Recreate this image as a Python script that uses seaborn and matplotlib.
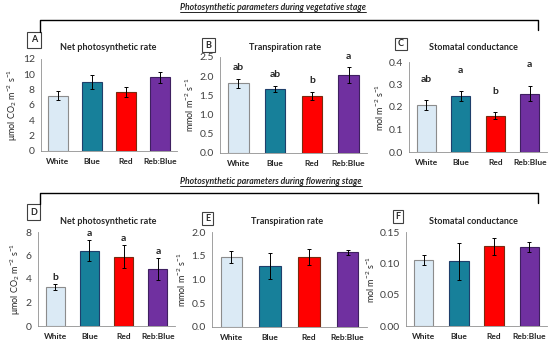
import matplotlib
matplotlib.use("Agg")
import matplotlib.pyplot as plt
import seaborn as sns
import pandas as pd
from matplotlib.lines import Line2D
from matplotlib.patches import Rectangle

sns.set_style("white")
plt.rcParams['font.family'] = ['Lato', 'DejaVu Sans']
plt.rcParams['mathtext.fontset'] = 'custom'
plt.rcParams['mathtext.rm'] = 'Lato'
plt.rcParams['mathtext.it'] = 'Lato:italic'
plt.rcParams['mathtext.bf'] = 'Lato:bold'

# ---------------- data ----------------
categories = ["White", "Blue", "Red", "Reb:Blue"]
bar_colors = ["#dbeaf5", "#17809a", "#ff0000", "#7030a0"]
edge_colors = ["#8c8c8c", "#1f3f6b", "#7a2a10", "#3f2060"]

stage_titles = ["Photosynthetic parameters during vegetative stage",
                "Photosynthetic parameters during flowering stage"]
panel_ids = ["A", "B", "C", "D", "E", "F"]
panel_titles = ["Net photosynthetic rate", "Transpiration rate", "Stomatal conductance",
                "Net photosynthetic rate", "Transpiration rate", "Stomatal conductance"]
y_labels = [r"μmol CO$_2$ m$^{-2}$ s$^{-1}$", r"mmol m$^{-2}$ s$^{-1}$", r"mol m$^{-2}$ s$^{-1}$",
            r"μmol CO$_2$ m$^{-2}$ s$^{-1}$", r"mmol m$^{-2}$ s$^{-1}$", r"mol m$^{-2}$ s$^{-1}$"]

vals_A = [7.2, 9.0, 7.7, 9.6]
err_A = [0.6, 0.9, 0.7, 0.7]
vals_B = [1.81, 1.66, 1.48, 2.03]
err_B = [0.13, 0.08, 0.11, 0.20]
vals_C = [0.21, 0.25, 0.162, 0.26]
err_C = [0.022, 0.022, 0.015, 0.035]
vals_D = [3.35, 6.4, 5.9, 4.85]
err_D = [0.25, 0.9, 1.0, 0.95]
vals_E = [1.47, 1.29, 1.48, 1.57]
err_E = [0.13, 0.27, 0.17, 0.06]
vals_F = [0.106, 0.103, 0.127, 0.126]
err_F = [0.008, 0.029, 0.014, 0.008]

letters_A = ["", "", "", ""]
letters_B = ["ab", "ab", "b", "a"]
letters_C = ["ab", "a", "b", "a"]
letters_D = ["b", "a", "a", "a"]
letters_E = ["", "", "", ""]
letters_F = ["", "", "", ""]

yticks_A = [0, 2, 4, 6, 8, 10, 12]
yticks_B = [0.0, 0.5, 1.0, 1.5, 2.0, 2.5]
yticks_C = [0.0, 0.1, 0.2, 0.3, 0.4]
yticks_D = [0, 2, 4, 6, 8]
yticks_E = [0.0, 0.5, 1.0, 1.5, 2.0]
yticks_F = [0.00, 0.05, 0.10, 0.15]
ytick_fmt = ["{:.0f}", "{:.1f}", "{:.1f}", "{:.0f}", "{:.1f}", "{:.2f}"]

panels_vals = [vals_A, vals_B, vals_C, vals_D, vals_E, vals_F]
panels_err = [err_A, err_B, err_C, err_D, err_E, err_F]
panels_letters = [letters_A, letters_B, letters_C, letters_D, letters_E, letters_F]
panels_yticks = [yticks_A, yticks_B, yticks_C, yticks_D, yticks_E, yticks_F]

# ---------------- layout (pixels) ----------------
W, H = 550, 345
fig = plt.figure(figsize=(W / 100, H / 100), dpi=100)
fig.patch.set_facecolor("white")

def fx(x):
    return x / W

def fy(y):
    return 1 - y / H

# axes rectangles: left, top, right, bottom (px)
ax_px = [(41, 59, 177, 151), (220, 57, 367, 153), (409, 62, 547, 152),
         (38, 232, 175, 326), (212, 232, 367, 327), (406, 232, 547, 326)]
box_px = [(27, 32, 41, 48), (202, 38, 215, 52), (395, 38, 407, 50),
          (27, 204, 40, 220), (202, 212, 213, 225), (393, 210, 403, 223)]
title_pos = [(108, 47), (285, 47), (473, 47), (108, 221), (287, 221), (473, 221)]
letter_gap = [0.06, 0.07, 0.18, 0.02, 0.06, 0.06]

for i in range(6):
    l, t, r, b = ax_px[i]
    ax = fig.add_axes([fx(l), fy(b), (r - l) / W, (b - t) / H])
    df = pd.DataFrame({"cat": categories, "val": panels_vals[i]})
    sns.barplot(data=df, x="cat", y="val", hue="cat", palette=bar_colors,
                legend=False, width=0.56, ax=ax, linewidth=0.8, saturation=1)
    for p, ec in zip(ax.patches, edge_colors):
        p.set_edgecolor(ec)
    ax.errorbar(range(4), panels_vals[i], yerr=panels_err[i], fmt="none",
                ecolor="black", elinewidth=0.7, capsize=1.5, capthick=0.7, zorder=5)
    yt = panels_yticks[i]
    ax.set_ylim(0, yt[-1])
    ax.set_xlim(-0.48, 3.48)
    ax.set_yticks(yt)
    ax.set_yticklabels([ytick_fmt[i].format(v) for v in yt], fontsize=7.5, color="#404040")
    ax.set_xticks(range(4))
    ax.set_xticklabels(categories, fontsize=6, fontweight="bold")
    ax.set_xticks([-0.5, 0.5, 1.5, 2.5, 3.5], minor=True)
    ax.tick_params(axis="x", which="major", length=0, pad=5)
    ax.tick_params(axis="x", which="minor", length=3, color="#909090", width=0.6, direction="out")
    ax.tick_params(axis="y", length=2.5, color="#909090", width=0.6, direction="out", pad=2)
    ax.set_xlabel("")
    ax.set_ylabel(y_labels[i], fontsize=6.5, labelpad=2)
    for s in ["top", "right"]:
        ax.spines[s].set_visible(False)
    for s in ["left", "bottom"]:
        ax.spines[s].set_color("#909090")
        ax.spines[s].set_linewidth(0.6)
    # significance letters
    for j, lt in enumerate(panels_letters[i]):
        if lt:
            ytop = panels_vals[i][j] + panels_err[i][j] + letter_gap[i] * yt[-1]
            ax.text(j, ytop, lt, ha="center", va="bottom", fontsize=7.5, fontweight="bold")
    # panel title
    tx, ty = title_pos[i]
    fig.text(fx(tx), fy(ty), panel_titles[i], ha="center", va="center",
             fontsize=6.5, fontweight="bold")
    # panel id box
    bl, bt, br, bb = box_px[i]
    fig.patches.append(Rectangle((fx(bl), fy(bb)), (br - bl) / W, (bb - bt) / H,
                                 transform=fig.transFigure, fill=False,
                                 edgecolor="#404040", linewidth=0.8))
    fig.text(fx((bl + br) / 2), fy((bt + bb) / 2), panel_ids[i], ha="center",
             va="center", fontsize=6.5, fontweight="bold")

# stage titles (underlined) and brackets
stage_title_y = [7, 181]
bracket_y = [20, 193]
bracket_left_bottom = [32, 204]
bracket_right_bottom = [30, 203]
fig.canvas.draw()
renderer = fig.canvas.get_renderer()
for k in range(2):
    txt = fig.text(fx(180), fy(stage_title_y[k]), stage_titles[k], ha="left", va="center",
                   fontsize=6.2, fontweight="bold", fontstyle="italic")
    bb = txt.get_window_extent(renderer=renderer).transformed(fig.transFigure.inverted())
    fig.lines.append(Line2D([bb.x0, bb.x1], [bb.y0 - 0.002, bb.y0 - 0.002],
                            transform=fig.transFigure, color="black", linewidth=0.6))
    yb = bracket_y[k]
    fig.lines.append(Line2D([fx(40), fx(40), fx(538), fx(538)],
                            [fy(bracket_left_bottom[k]), fy(yb), fy(yb), fy(bracket_right_bottom[k])],
                            transform=fig.transFigure, color="black", linewidth=1.0))

fig.savefig("out.png", dpi=100, facecolor="white")
